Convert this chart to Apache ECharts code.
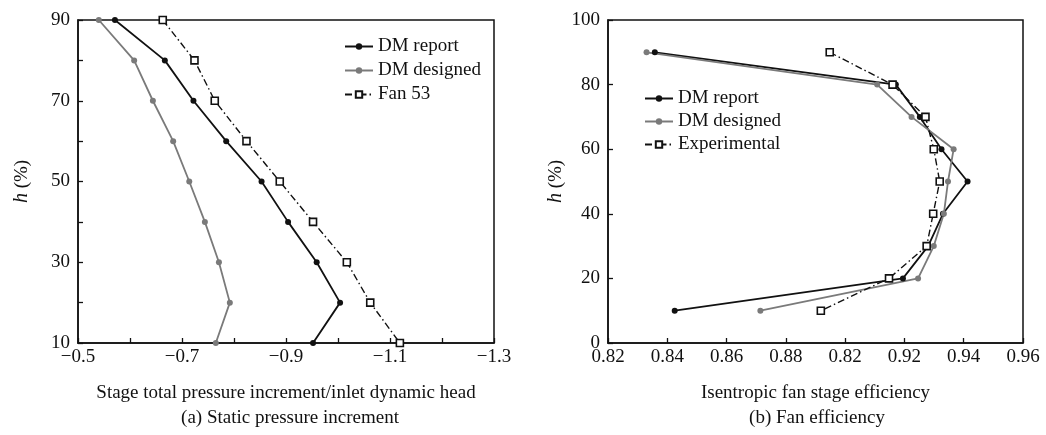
<!DOCTYPE html>
<html>
<head>
<meta charset="utf-8">
<script src="https://cdn.jsdelivr.net/npm/echarts@6/dist/echarts.min.js"></script>
<style>
html,body{margin:0;padding:0;background:#fff;}
#chart{width:1046px;height:435px;}
</style>
</head>
<body>
<div id="chart"></div>
<script>
// ---- shared heights ----
const heights = [90, 80, 70, 60, 50, 40, 30, 20, 10];

// ---- panel (a): static pressure increment ----
const dmReportA   = [-0.571, -0.667, -0.722, -0.785, -0.853, -0.904, -0.959, -1.004, -0.952];
const dmDesignedA = [-0.540, -0.608, -0.644, -0.683, -0.714, -0.744, -0.771, -0.792, -0.765];
const fan53A      = [-0.663, -0.724, -0.763, -0.824, -0.888, -0.952, -1.017, -1.062, -1.119];
const xTickValsA   = [-0.5, -0.7, -0.9, -1.1, -1.3];
const xTickLabelsA = ['\u22120.5', '\u22120.7', '\u22120.9', '\u22121.1', '\u22121.3'];
const yTickValsA   = [10, 30, 50, 70, 90];

// ---- panel (b): fan efficiency ----
const dmReportB   = [0.8358, 0.9171, 0.9252, 0.9325, 0.9413, 0.9330, 0.9280, 0.9195, 0.8425];
const dmDesignedB = [0.8330, 0.9108, 0.9224, 0.9366, 0.9347, 0.9333, 0.9299, 0.9246, 0.8714];
const experimentalB = [0.8948, 0.9160, 0.9271, 0.9299, 0.9319, 0.9297, 0.9275, 0.9148, 0.8918];
const xTickValsB   = [0.82, 0.84, 0.86, 0.88, 0.90, 0.92, 0.94, 0.96];
const xTickLabelsB = ['0.82', '0.84', '0.86', '0.88', '0.82', '0.92', '0.94', '0.96'];

const FONT = '"Liberation Serif", "Times New Roman", serif';
const FS = 19;
const BLACK = '#111111';
const GREY = '#7a7a7a';

function pairs(xs) { return xs.map((x, i) => [x, heights[i]]); }
function lookup(vals, labels) {
  return function (v) {
    for (let i = 0; i < vals.length; i++) if (Math.abs(v - vals[i]) < 1e-6) return labels[i];
    return '';
  };
}

const axisCommon = {
  axisLine: { show: true, onZero: false, lineStyle: { color: BLACK, width: 1.5 } },
  axisTick: { show: true, inside: true, length: 5, lineStyle: { color: BLACK, width: 1.3 } },
  splitLine: { show: false },
  axisLabel: { color: BLACK, fontFamily: FONT, fontSize: FS },
  nameTextStyle: { color: BLACK, fontFamily: FONT, fontSize: FS,
    rich: { i: { fontStyle: 'italic', fontFamily: FONT, fontSize: FS + 1, color: BLACK } } }
};
function ax(extra) {
  const o = JSON.parse(JSON.stringify(axisCommon));
  for (const k in extra) o[k] = extra[k];
  return o;
}

function solid(name, data, color, xi) {
  return {
    name: name, type: 'line', xAxisIndex: xi, yAxisIndex: xi, data: data,
    symbol: 'circle', symbolSize: 6, showSymbol: true,
    lineStyle: { color: color, width: 1.8 },
    itemStyle: { color: color },
    emphasis: { disabled: true }, animation: false
  };
}
function dashdot(name, data, xi) {
  return {
    name: name, type: 'line', xAxisIndex: xi, yAxisIndex: xi, data: data,
    symbol: 'rect', symbolSize: 7,
    lineStyle: { color: BLACK, width: 1.4, type: [7, 3, 1.5, 3] },
    itemStyle: { color: '#ffffff', borderColor: BLACK, borderWidth: 1.6 },
    emphasis: { disabled: true }, animation: false
  };
}

const chart = echarts.init(document.getElementById('chart'), null, { renderer: 'canvas' });

const xA = ax({ type: 'value', gridIndex: 0, inverse: true, min: -1.3, max: -0.5, interval: 0.1,
  name: 'Stage total pressure increment/inlet dynamic head', nameLocation: 'middle', nameGap: 41 });
xA.axisLabel.formatter = lookup(xTickValsA, xTickLabelsA);
xA.axisLabel.margin = 5;
xA.axisLabel.showMinLabel = true; xA.axisLabel.showMaxLabel = true;

const yA = ax({ type: 'value', gridIndex: 0, min: 10, max: 90, interval: 10,
  name: '{i|h} (%)', nameLocation: 'middle', nameGap: 46 });
yA.axisLabel.formatter = lookup(yTickValsA, yTickValsA.map(String));
yA.axisLabel.margin = 8;

const xB = ax({ type: 'value', gridIndex: 1, min: 0.82, max: 0.96, interval: 0.02,
  name: 'Isentropic fan stage efficiency', nameLocation: 'middle', nameGap: 41 });
xB.axisLabel.formatter = lookup(xTickValsB, xTickLabelsB);
xB.axisLabel.margin = 5;
xB.axisLabel.showMinLabel = true; xB.axisLabel.showMaxLabel = true;

const yB = ax({ type: 'value', gridIndex: 1, min: 0, max: 100, interval: 20,
  name: '{i|h} (%)', nameLocation: 'middle', nameGap: 42 });
yB.axisLabel.margin = 8;

const legendText = { color: BLACK, fontFamily: FONT, fontSize: FS };

chart.setOption({
  backgroundColor: '#ffffff',
  animation: false,
  grid: [
    { left: 78, top: 20, width: 416, height: 323, show: true, borderColor: BLACK, borderWidth: 1.5, backgroundColor: 'transparent' },
    { left: 608, top: 20, width: 415, height: 323, show: true, borderColor: BLACK, borderWidth: 1.5, backgroundColor: 'transparent' }
  ],
  xAxis: [xA, xB],
  yAxis: [yA, yB],
  legend: [
    { data: ['DM report', 'DM designed', 'Fan 53'], orient: 'vertical', left: 344, top: 37,
      itemWidth: 28, itemHeight: 8, itemGap: 5, textStyle: legendText, selectedMode: false, padding: 0 },
    { data: ['DM report', 'DM designed', 'Experimental'], orient: 'vertical', left: 644, top: 89,
      itemWidth: 28, itemHeight: 8, itemGap: 4, textStyle: legendText, selectedMode: false, padding: 0 }
  ],
  series: [
    solid('DM report', pairs(dmReportA), BLACK, 0),
    solid('DM designed', pairs(dmDesignedA), GREY, 0),
    dashdot('Fan 53', pairs(fan53A), 0),
    solid('DM report', pairs(dmReportB), BLACK, 1),
    solid('DM designed', pairs(dmDesignedB), GREY, 1),
    dashdot('Experimental', pairs(experimentalB), 1)
  ],
  graphic: [
    { type: 'text', x: 290, y: 418, style: { text: '(a) Static pressure increment', fill: BLACK,
      font: FS + 'px ' + FONT, textAlign: 'center', textVerticalAlign: 'middle' } },
    { type: 'text', x: 817, y: 418, style: { text: '(b) Fan efficiency', fill: BLACK,
      font: FS + 'px ' + FONT, textAlign: 'center', textVerticalAlign: 'middle' } }
  ]
});
</script>
</body>
</html>
